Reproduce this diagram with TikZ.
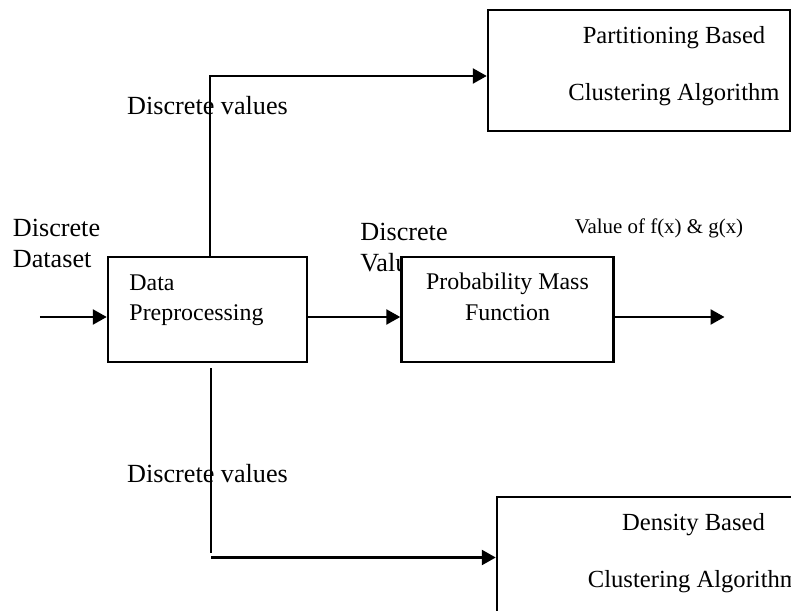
\documentclass[tikz,border=0pt]{standalone}
\usepackage{fontspec}
\setmainfont{Liberation Serif}
\usetikzlibrary{arrows.meta}
\tikzstyle{procbox} = [rectangle, 
minimum width=3.98cm, 
minimum height=2.1cm,
line width=1.4pt,
draw=black, fill=white]
\tikzstyle{algobox} = [rectangle, 
minimum width=6.04cm, 
minimum height=2.42cm,
line width=1.4pt,
draw=black, fill=white]
\tikzstyle{lbl} = [align=left, inner sep=0pt, font=\fontsize{14.9pt}{17.6pt}\selectfont]
\tikzstyle{boxtext} = [align=center, inner sep=0pt, font=\fontsize{13.6pt}{17.3pt}\selectfont]
\tikzstyle{algotext} = [align=center, inner sep=0pt, font=\fontsize{14pt}{32.4pt}\selectfont]
\tikzstyle{arrow} = [line width=1.4pt,->,>={Triangle[length=0.28cm,width=0.3cm]}]
\tikzstyle{conn} = [line width=1.4pt]

\begin{document}
\begin{tikzpicture}[node distance=6cm]
\useasboundingbox (-4.15,-6.03) rectangle (11.67,6.19);
\clip (-4.15,-6.03) rectangle (11.67,6.19);
\node (dp)[procbox, label={[boxtext, align=left, xshift=-0.22cm, yshift=0.19cm]center:Data\\Preprocessing}] {};
\node (dsin)[lbl, left of=dp, xshift=2.98cm, yshift=1.32cm] {Discrete\\Dataset};
\node (dv0)[lbl, right of=dp, xshift=-2.07cm, yshift=1.24cm] {Discrete\\Values};
\node (pmf)[procbox, minimum width=4.24cm, right of=dp, label={[boxtext, yshift=0.25cm]center:Probability Mass\\Function}] {};
\node (fg)[lbl, right of=pmf, xshift=-2.97cm, yshift=1.63cm, font=\fontsize{11.9pt}{14pt}\selectfont] {Value of f(x) \& g(x)};
\node (part)[algobox, above of=pmf, xshift=2.63cm, yshift=-1.22cm, label={[algotext, xshift=0.7cm, yshift=0.09cm]center:Partitioning Based\\Clustering Algorithm}] {};
\node (dens)[algobox, below of=pmf, xshift=2.81cm, yshift=1.04cm, label={[algotext, xshift=0.91cm, yshift=0.08cm]center:Density Based\\Clustering Algorithm}] {};
\node (dv1)[lbl, above of=dp, yshift=-1.93cm] {Discrete values};
\node (dv2)[lbl, below of=dp, yshift=2.71cm] {Discrete values};
\coordinate (dsstart) at (-3.35,-0.15);
\coordinate (pmfout) at (10.34,-0.15);
\coordinate (dvend) at (dp.south |- dens.west);
\draw [arrow] (dsstart) -- ([yshift=-0.15cm]dp.west);
\draw [arrow] ([yshift=-0.15cm]dp.east) -- ([yshift=-0.15cm]pmf.west);
\draw [arrow] ([yshift=-0.15cm]pmf.east) -- (pmfout);
\draw [arrow] ([xshift=0.05cm]dp.north) |- ([yshift=-0.11cm]part.west);
\draw [conn] ([xshift=0.07cm,yshift=-0.1cm]dp.south) -- ([xshift=0.07cm,yshift=0.09cm]dvend);
\draw [arrow] ([xshift=0.07cm]dvend) -- (dens.west);
\end{tikzpicture}
\end{document}
